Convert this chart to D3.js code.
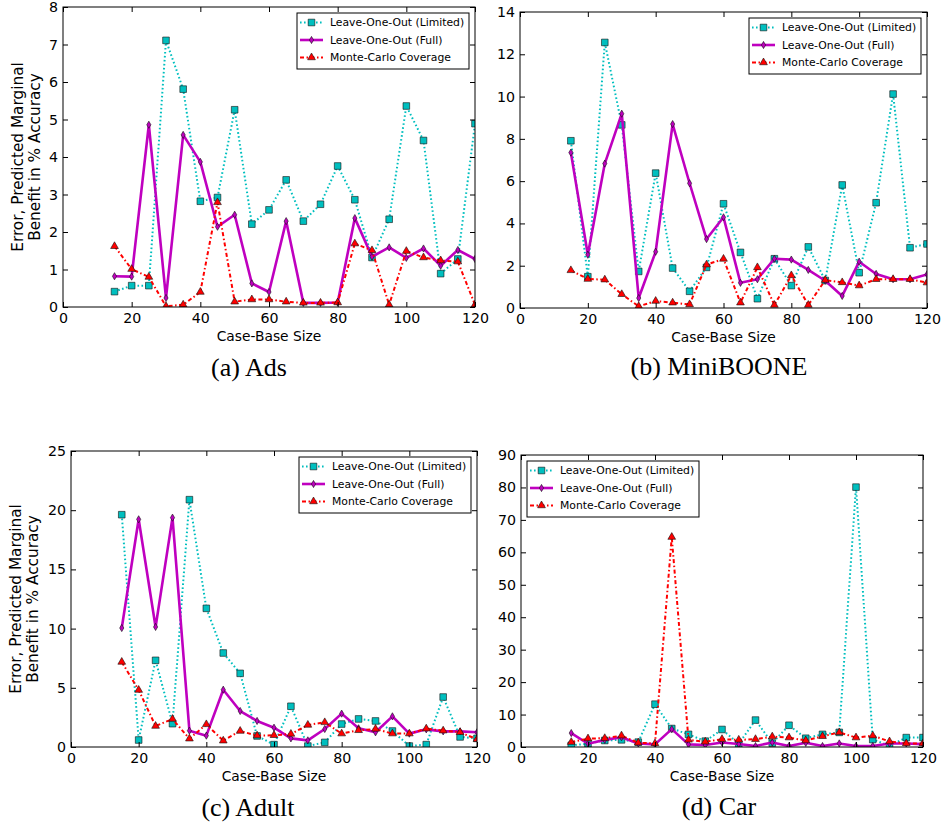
<!DOCTYPE html>
<html>
<head>
<meta charset="utf-8">
<script src="https://cdn.jsdelivr.net/npm/d3@7"></script>
<style>
  body { margin: 0; background: #fff; }
  svg { display: block; }
</style>
</head>
<body>
<svg id="chart" width="941" height="826"></svg>
<script>
// case-base sizes on the x axis
const caseBaseSizes = [15, 20, 25, 30, 35, 40, 45, 50, 55, 60, 65, 70, 75, 80, 85, 90, 95, 100, 105, 110, 115, 120];
const xTicks = [0, 20, 40, 60, 80, 100, 120];

const seriesNames = ['Leave-One-Out (Limited)', 'Leave-One-Out (Full)', 'Monte-Carlo Coverage'];
const yLabelLines = ['Error, Predicted Marginal', 'Benefit in % Accuracy'];
const xLabel = 'Case-Base Size';

// (a) Ads
const adsLimited = [0.41, 0.57, 0.57, 7.11, 5.81, 2.82, 2.92, 5.26, 2.21, 2.59, 3.39, 2.29, 2.74, 3.76, 2.86, 1.32, 2.34, 5.36, 4.44, 0.89, 1.28, 4.89];
const adsFull = [0.82, 0.81, 4.86, 0.24, 4.59, 3.87, 2.14, 2.46, 0.63, 0.40, 2.29, 0.11, 0.11, 0.12, 2.37, 1.34, 1.59, 1.31, 1.56, 1.10, 1.52, 1.28];
const adsMonteCarlo = [1.62, 1.01, 0.80, 0.02, 0.06, 0.40, 2.79, 0.14, 0.20, 0.20, 0.14, 0.11, 0.11, 0.12, 1.69, 1.51, 0.06, 1.49, 1.32, 1.24, 1.21, 0.06];
const adsYTicks = [0, 1, 2, 3, 4, 5, 6, 7, 8];

// (b) MiniBOONE
const miniLimited = [7.91, 1.48, 12.56, 8.66, 1.73, 6.38, 1.89, 0.79, 1.92, 4.93, 2.63, 0.44, 2.33, 1.06, 2.89, 1.30, 5.82, 1.67, 4.98, 10.12, 2.85, 3.03];
const miniFull = [7.35, 2.52, 6.83, 9.19, 0.47, 2.66, 8.70, 5.90, 3.26, 4.29, 1.19, 1.36, 2.33, 2.29, 1.80, 1.29, 0.57, 2.19, 1.61, 1.36, 1.36, 1.59];
const miniMonteCarlo = [1.78, 1.37, 1.34, 0.65, 0.08, 0.33, 0.25, 0.17, 2.05, 2.32, 0.25, 1.92, 0.14, 1.54, 0.14, 1.32, 1.21, 1.06, 1.36, 1.36, 1.36, 1.20];
const miniYTicks = [0, 2, 4, 6, 8, 10, 12, 14];

// (c) Adult
const adultLimited = [19.62, 0.59, 7.32, 1.97, 20.89, 11.71, 7.94, 6.22, 0.93, 0.20, 3.44, 0.08, 0.39, 1.94, 2.37, 2.20, 1.35, 0.08, 0.20, 4.22, 0.85, 0.73];
const adultFull = [10.05, 19.23, 10.14, 19.37, 1.38, 0.96, 4.84, 3.04, 2.20, 1.63, 0.73, 0.56, 1.52, 2.82, 1.58, 1.24, 2.59, 1.13, 1.49, 1.32, 1.32, 1.24];
const adultMonteCarlo = [7.18, 4.81, 1.77, 2.36, 0.70, 1.91, 0.53, 1.35, 0.96, 0.99, 1.10, 1.86, 2.08, 1.13, 1.41, 1.52, 1.13, 1.13, 1.55, 1.38, 1.24, 0.65];
const adultYTicks = [0, 5, 10, 15, 20, 25];

// (d) Car
const carLimited = [0.5, 1.0, 2.0, 2.2, 1.5, 13.2, 5.7, 3.9, 1.8, 5.4, 1.0, 8.3, 1.2, 6.7, 2.7, 3.9, 4.5, 80.1, 2.3, 0.4, 2.9, 2.9];
const carFull = [4.3, 1.0, 2.2, 3.0, 1.1, 0.8, 5.5, 0.8, 0.6, 1.4, 0.9, 0.3, 1.4, 0.3, 1.3, 0.3, 1.1, 0.3, 0.3, 1.1, 1.1, 0.9];
const carMonteCarlo = [1.5, 2.6, 2.7, 3.5, 1.3, 1.1, 64.7, 2.2, 1.6, 2.4, 2.2, 2.4, 3.2, 2.9, 2.0, 3.3, 4.5, 2.9, 3.5, 1.7, 1.1, 1.1];
const carYTicks = [0, 10, 20, 30, 40, 50, 60, 70, 80, 90];

const sansFont = 'DejaVu Sans, sans-serif';
const serifFont = 'Liberation Serif, Times New Roman, serif';

// line / marker look, one per series
const seriesStyle = [
  { color: '#00bfbf', width: 2, dash: '1.6,2.4', symbol: d3.symbolSquare, size: 44 },
  { color: '#bf00bf', width: 2.6, dash: null, symbol: d3.symbolDiamond, size: 15 },
  { color: '#ff0000', width: 2, dash: '4,2.5,1.5,2.5', symbol: d3.symbolTriangle, size: 26 }
];

const panels = [
  { id: 'ads', caption: '(a) Ads', series: [adsLimited, adsFull, adsMonteCarlo], yTicks: adsYTicks,
    left: 63, right: 475, top: 7, bottom: 307, legendSide: 'right', yLabelX: [18, 35], captionX: 249, captionY: 376 },
  { id: 'mini', caption: '(b) MiniBOONE', series: [miniLimited, miniFull, miniMonteCarlo], yTicks: miniYTicks,
    left: 520, right: 927, top: 12, bottom: 308, legendSide: 'right', yLabelX: null, captionX: 719, captionY: 375 },
  { id: 'adult', caption: '(c) Adult', series: [adultLimited, adultFull, adultMonteCarlo], yTicks: adultYTicks,
    left: 71, right: 477, top: 451, bottom: 747, legendSide: 'right', yLabelX: [16, 33], captionX: 248, captionY: 816 },
  { id: 'car', caption: '(d) Car', series: [carLimited, carFull, carMonteCarlo], yTicks: carYTicks,
    left: 521, right: 923, top: 455, bottom: 747, legendSide: 'left', yLabelX: null, captionX: 719, captionY: 815 }
];

const svg = d3.select('#chart');
svg.append('rect').attr('width', 941).attr('height', 826).attr('fill', '#fff');

panels.forEach(p => {
  const x = d3.scaleLinear().domain([0, 120]).range([p.left, p.right]);
  const y = d3.scaleLinear().domain([0, d3.max(p.yTicks)]).range([p.bottom, p.top]);

  const g = svg.append('g').attr('class', 'panel-' + p.id);

  g.append('clipPath').attr('id', 'clip-' + p.id)
    .append('rect')
    .attr('x', p.left).attr('y', p.top)
    .attr('width', p.right - p.left).attr('height', p.bottom - p.top);

  const plot = g.append('g').attr('clip-path', `url(#clip-${p.id})`);

  const line = d3.line()
    .x(d => x(d[0]))
    .y(d => y(d[1]));

  p.series.forEach((values, i) => {
    const st = seriesStyle[i];
    const pts = caseBaseSizes.map((c, k) => [c, values[k]]);
    plot.append('path')
      .datum(pts)
      .attr('d', line)
      .attr('fill', 'none')
      .attr('stroke', st.color)
      .attr('stroke-width', st.width)
      .attr('stroke-dasharray', st.dash)
      .attr('stroke-linejoin', 'round');
    plot.append('g')
      .selectAll('path')
      .data(pts)
      .enter().append('path')
      .attr('transform', d => `translate(${x(d[0])},${y(d[1])})`)
      .attr('d', d3.symbol(st.symbol, st.size))
      .attr('fill', st.color)
      .attr('stroke', '#111')
      .attr('stroke-width', 0.6);
  });

  // axes, ticks pointing inwards on all four sides
  const bottomAxis = g.append('g')
    .attr('transform', `translate(0,${p.bottom})`)
    .call(d3.axisBottom(x).tickValues(xTicks).tickSize(-5).tickPadding(6));
  g.append('g')
    .attr('transform', `translate(0,${p.top})`)
    .call(d3.axisTop(x).tickValues(xTicks).tickSize(-5).tickFormat(''));
  const leftAxis = g.append('g')
    .attr('transform', `translate(${p.left},0)`)
    .call(d3.axisLeft(y).tickValues(p.yTicks).tickSize(-5).tickPadding(5));
  g.append('g')
    .attr('transform', `translate(${p.right},0)`)
    .call(d3.axisRight(y).tickValues(p.yTicks).tickSize(-5).tickFormat(''));

  g.selectAll('.domain').remove();
  g.selectAll('.tick line').attr('stroke', '#000').attr('stroke-width', 1);
  [bottomAxis, leftAxis].forEach(a => a.selectAll('text')
    .attr('font-family', sansFont)
    .attr('font-size', 14.2)
    .attr('fill', '#000'));

  g.append('rect')
    .attr('x', p.left).attr('y', p.top)
    .attr('width', p.right - p.left).attr('height', p.bottom - p.top)
    .attr('fill', 'none')
    .attr('stroke', '#000')
    .attr('stroke-width', 1);

  g.append('text')
    .attr('x', (p.left + p.right) / 2)
    .attr('y', p.bottom + 34)
    .attr('text-anchor', 'middle')
    .attr('font-family', sansFont)
    .attr('font-size', 13.8)
    .text(xLabel);

  if (p.yLabelX) {
    const cy = (p.top + p.bottom) / 2;
    yLabelLines.forEach((t, i) => {
      g.append('text')
        .attr('transform', `translate(${p.yLabelX[i]},${cy}) rotate(-90)`)
        .attr('text-anchor', 'middle')
        .attr('dy', '0.35em')
        .attr('font-family', sansFont)
        .attr('font-size', 15.3)
        .text(t);
    });
  }

  // legend
  const boxW = 172, boxH = 56;
  const lx = p.legendSide === 'right' ? p.right - 6 - boxW : p.left + 6;
  const ly = p.top + 6;
  const legend = g.append('g').attr('transform', `translate(${lx},${ly})`);
  legend.append('rect')
    .attr('x', 0).attr('y', 0).attr('width', boxW).attr('height', boxH)
    .attr('fill', '#fff').attr('stroke', '#000').attr('stroke-width', 1);
  seriesNames.forEach((name, i) => {
    const st = seriesStyle[i];
    const ry = 9.5 + i * 17.5;
    legend.append('line')
      .attr('x1', 3).attr('x2', 26).attr('y1', ry).attr('y2', ry)
      .attr('stroke', st.color)
      .attr('stroke-width', st.width)
      .attr('stroke-dasharray', st.dash);
    legend.append('path')
      .attr('transform', `translate(14.5,${ry})`)
      .attr('d', d3.symbol(st.symbol, st.size))
      .attr('fill', st.color)
      .attr('stroke', '#111')
      .attr('stroke-width', 0.6);
    legend.append('text')
      .attr('x', 33).attr('y', ry)
      .attr('dy', '0.35em')
      .attr('font-family', sansFont)
      .attr('font-size', 10.8)
      .text(name);
  });

  svg.append('text')
    .attr('x', p.captionX)
    .attr('y', p.captionY)
    .attr('text-anchor', 'middle')
    .attr('font-family', serifFont)
    .attr('font-size', 26)
    .text(p.caption);
});
</script>
</body>
</html>
